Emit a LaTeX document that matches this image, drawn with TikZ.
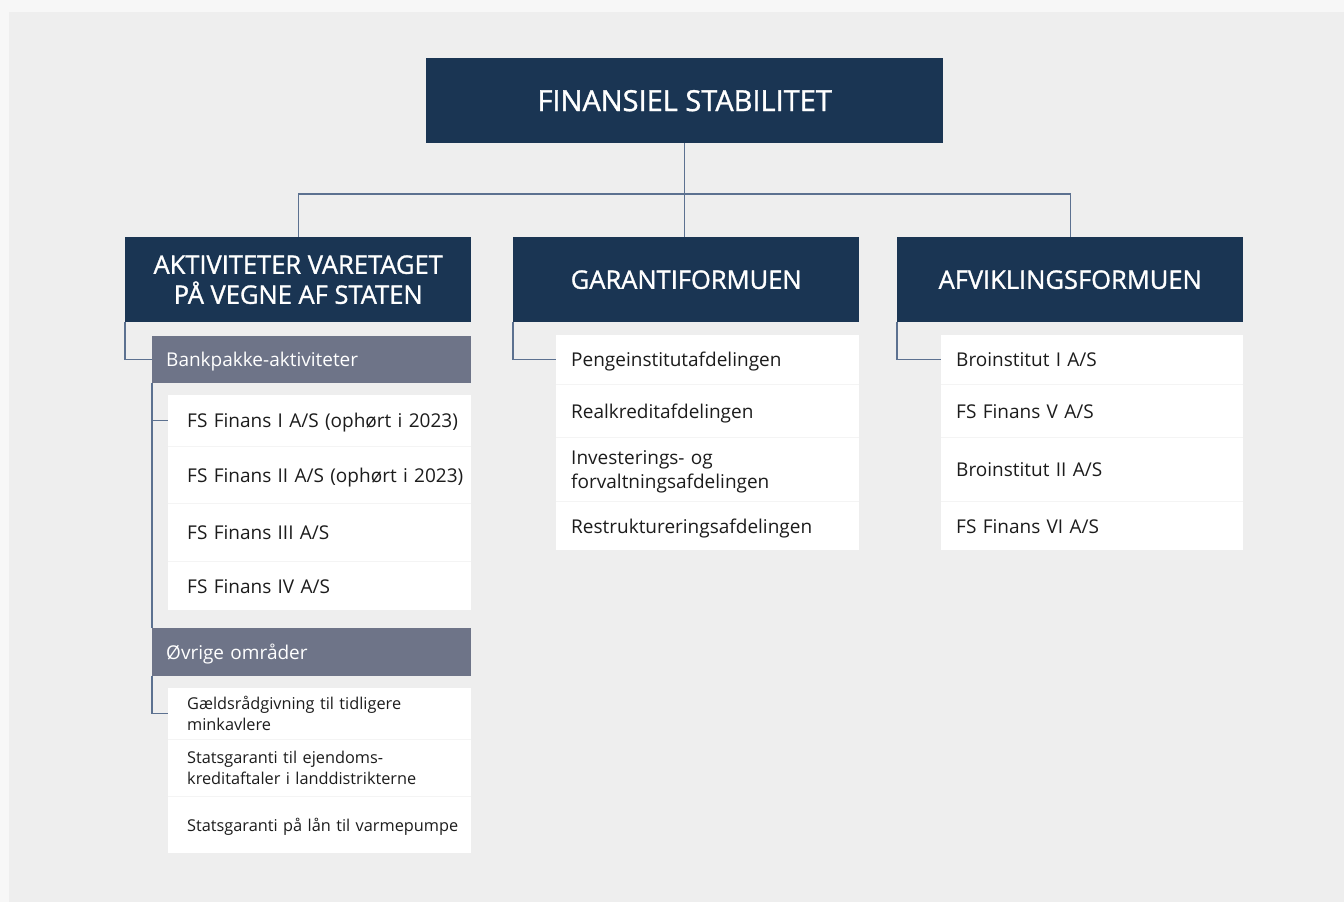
\documentclass[tikz,border=0pt]{standalone}
\usepackage{fontspec}
\setmainfont[WordSpace=0.7]{Open Sans}
\newfontfamily\semib[FakeBold=1.2]{Open Sans}
\definecolor{navy}{HTML}{1A3553}
\definecolor{graybar}{HTML}{6E7488}
\definecolor{connc}{HTML}{5C7190}
\definecolor{bgout}{HTML}{F7F7F7}
\definecolor{bgin}{HTML}{EEEEEE}
\definecolor{sepc}{HTML}{F4F4F4}
\definecolor{ink}{HTML}{1C1C1C}
\begin{document}
\begin{tikzpicture}[x=1pt,y=-1pt,
  hdr/.style={fill=navy, text=white, font=\semib\fontsize{25.5}{30}\selectfont, align=center, anchor=north west, inner sep=0pt},
  tophdr/.style={hdr, font=\semib\fontsize{29}{32}\selectfont},
  bar/.style={fill=graybar, text=white, font=\fontsize{19}{23}\selectfont, anchor=north west, inner sep=0pt, minimum width=319pt, text width=319pt, align=left, text depth=0pt, execute at begin node={\leftskip=14pt\relax}},
  item/.style={fill=white, text=ink, font=\fontsize{19}{24}\selectfont, anchor=north west, inner sep=0pt, align=left, text depth=0pt},
  lcol/.style={item, minimum width=303pt, text width=303pt, execute at begin node={\leftskip=19pt\relax}},
  lsmall/.style={lcol, font=\fontsize{16.3}{21}\selectfont},
  mcol/.style={item, minimum width=303pt, text width=303pt, execute at begin node={\leftskip=15pt\relax}},
  rcol/.style={item, minimum width=302pt, text width=302pt, execute at begin node={\leftskip=15pt\relax}},
  twoline/.style={text depth=#1},
  conn/.style={draw=connc, line width=1.4pt}
]
% background
\fill[bgout] (0,0) rectangle (1344,902);
\fill[bgin] (9,12) rectangle (1344,902);
% column backings (light separators)
\fill[sepc] (168,395) rectangle (471,610);
\fill[sepc] (168,688) rectangle (471,853);
\fill[sepc] (556,335) rectangle (859,550);
\fill[sepc] (941,335) rectangle (1243,550);

% top
\node[tophdr, minimum width=517pt, minimum height=85pt] (top) at (426,58) {FINANSIEL STABILITET};
% level 2
\node[hdr, minimum width=346pt, minimum height=85pt] (aktiv) at (125,237) {AKTIVITETER VARETAGET\\PÅ VEGNE AF STATEN};
\node[hdr, minimum width=346pt, minimum height=85pt] (garanti) at (513,237) {GARANTIFORMUEN};
\node[hdr, minimum width=346pt, minimum height=85pt] (afvikl) at (897,237) {AFVIKLINGSFORMUEN};

% left column
\node[bar, minimum height=47pt] (bank) at (152,336) {Bankpakke-aktiviteter};
\node[lcol, minimum height=51pt] (fs1) at (168,395) {FS Finans I A/S (ophørt i 2023)};
\node[lcol, minimum height=56pt] (fs2) at (168,447) {FS Finans II A/S (ophørt i 2023)};
\node[lcol, minimum height=57pt] (fs3) at (168,504) {FS Finans III A/S};
\node[lcol, minimum height=48pt] (fs4) at (168,562) {FS Finans IV A/S};
\node[bar, minimum height=48pt] (ovr) at (152,628) {Øvrige områder};
\node[lsmall, twoline=21pt, minimum height=51pt] (gaeld) at (168,688) {Gældsrådgivning til tidligere\\minkavlere};
\node[lsmall, twoline=21pt, minimum height=56pt] (ejend) at (168,740) {Statsgaranti til ejendoms-\\kreditaftaler i landdistrikterne};
\node[lsmall, minimum height=56pt] (varme) at (168,797) {Statsgaranti på lån til varmepumpe};

% middle column
\node[mcol, minimum height=49pt] (penge) at (556,335) {Pengeinstitutafdelingen};
\node[mcol, minimum height=52pt] (real) at (556,385) {Realkreditafdelingen};
\node[mcol, twoline=24pt, minimum height=63pt] (invest) at (556,438) {Investerings- og\\forvaltningsafdelingen};
\node[mcol, minimum height=48pt] (restr) at (556,502) {Restruktureringsafdelingen};

% right column
\node[rcol, minimum height=49pt] (bro1) at (941,335) {Broinstitut I A/S};
\node[rcol, minimum height=52pt] (fs5) at (941,385) {FS Finans V A/S};
\node[rcol, minimum height=63pt] (bro2) at (941,438) {Broinstitut II A/S};
\node[rcol, minimum height=48pt] (fs6) at (941,502) {FS Finans VI A/S};

% connectors
\coordinate (bus) at (684.5,194);
\draw[conn] (top.south) -- (top.south |- garanti.north);
\draw[conn] (aktiv.north) |- (bus) -| (afvikl.north);
\draw[conn] (aktiv.south west) |- (bank.west);
\draw[conn] (bank.south west) |- (fs1.west);
\draw[conn] (bank.south west) -- (ovr.north west);
\draw[conn] (ovr.south west) |- (gaeld.west);
\draw[conn] (garanti.south west) |- (penge.west);
\draw[conn] (afvikl.south west) |- (bro1.west);
\end{tikzpicture}
\end{document}
